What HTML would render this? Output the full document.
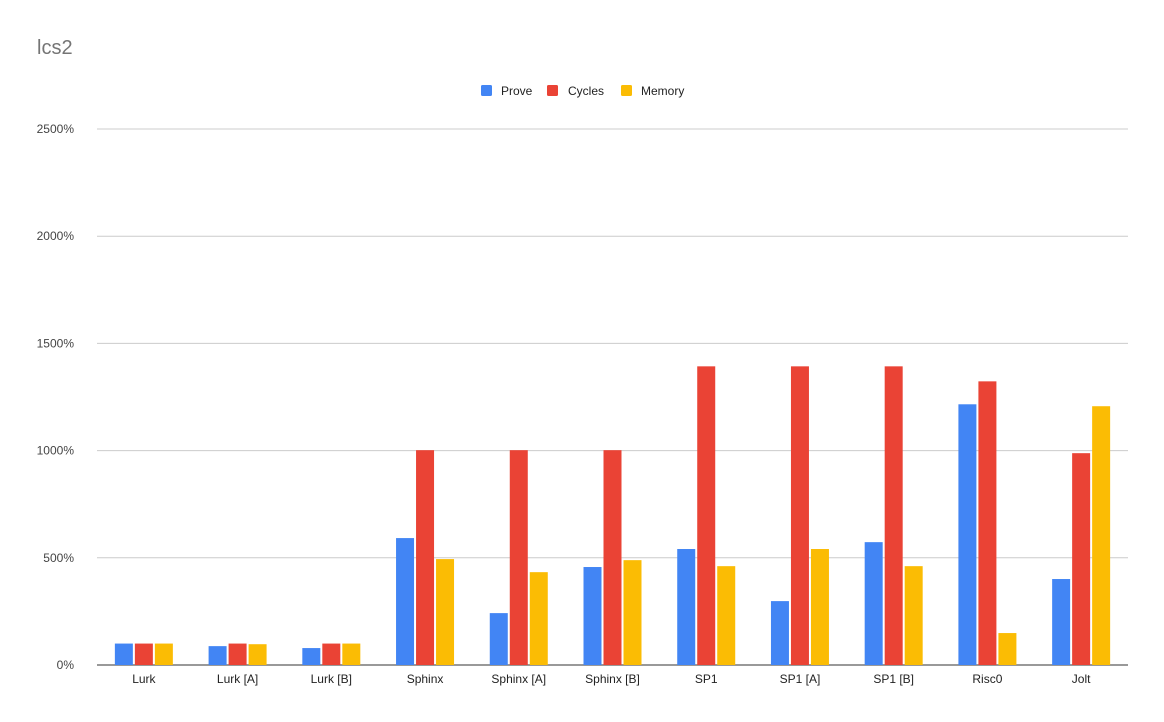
<!DOCTYPE html>
<html><head><meta charset="utf-8"><style>
html,body{margin:0;padding:0;background:#fff;}
svg{display:block;font-family:"Liberation Sans",Arial,sans-serif;}
</style></head><body>
<svg id="chart" width="1164" height="722" viewBox="0 0 1164 722">
<rect width="1164" height="722" fill="#fff"/>
<text x="37" y="54" font-size="20" fill="#757575">lcs2</text>
<g>
 <g><rect x="481" y="85" width="11" height="11" rx="1.5" fill="#4285f4"/><text x="501" y="95" font-size="12" fill="#222">Prove</text></g>
 <g><rect x="547" y="85" width="11" height="11" rx="1.5" fill="#ea4335"/><text x="568" y="95" font-size="12" fill="#222">Cycles</text></g>
 <g><rect x="621" y="85" width="11" height="11" rx="1.5" fill="#fbbc04"/><text x="641" y="95" font-size="12" fill="#222">Memory</text></g>
</g>
<g id="grid"></g><g id="bars"></g><g id="xlabels"></g>
</svg>
<script>
const categories=["Lurk","Lurk [A]","Lurk [B]","Sphinx","Sphinx [A]","Sphinx [B]","SP1","SP1 [A]","SP1 [B]","Risc0","Jolt"];
const prove=[100,88,79,592,242,457,541,298,573,1216,401];
const cycles=[100,100,100,1002,1002,1002,1393,1393,1393,1323,988];
const memory=[100,97,100,494,433,489,461,541,461,149,1207];
const yTicks=[0,500,1000,1500,2000,2500];
const NS="http://www.w3.org/2000/svg";
const x0=97,x1=1128,y0=665,y1=129,yMax=2500;
function y(v){return y0-(v/yMax)*(y0-y1);}
const band=(x1-x0)/categories.length;
function xc(i){return x0+band*(i+0.5);}
const grid=document.getElementById('grid');
yTicks.forEach(t=>{
 const l=document.createElementNS(NS,'line');
 l.setAttribute('x1',x0);l.setAttribute('x2',x1);l.setAttribute('y1',y(t));l.setAttribute('y2',y(t));
 l.setAttribute('stroke',t===0?'#333':'#ccc');l.setAttribute('stroke-width','1');
 
 
 grid.appendChild(l);
 const tx=document.createElementNS(NS,'text');
 tx.setAttribute('x',74);tx.setAttribute('y',y(t)+4);tx.setAttribute('text-anchor','end');
 tx.setAttribute('font-size','12');tx.setAttribute('fill','#444');
 tx.textContent=t+'%';
 
 
 grid.appendChild(tx);
});
const series=[["prove",prove,"#4285f4"],["cycles",cycles,"#ea4335"],["memory",memory,"#fbbc04"]];
const bars=document.getElementById('bars');
const bw=18,gap=2;
categories.forEach((c,i)=>{
 series.forEach((s,j)=>{
  const v=s[1][i];
  const r=document.createElementNS(NS,'rect');
  const bx=xc(i)-(bw*1.5+gap)+j*(bw+gap);
  r.setAttribute('x',bx);r.setAttribute('y',y(v));r.setAttribute('width',bw);r.setAttribute('height',y0-y(v));
  r.setAttribute('fill',s[2]);
  
  
  bars.appendChild(r);
 });
 const t=document.createElementNS(NS,'text');
 t.setAttribute('x',xc(i));t.setAttribute('y',683);t.setAttribute('text-anchor','middle');
 t.setAttribute('font-size','12');t.setAttribute('fill','#222');
 t.textContent=c;
 
 
 document.getElementById('xlabels').appendChild(t);
});
</script>
</body></html>
